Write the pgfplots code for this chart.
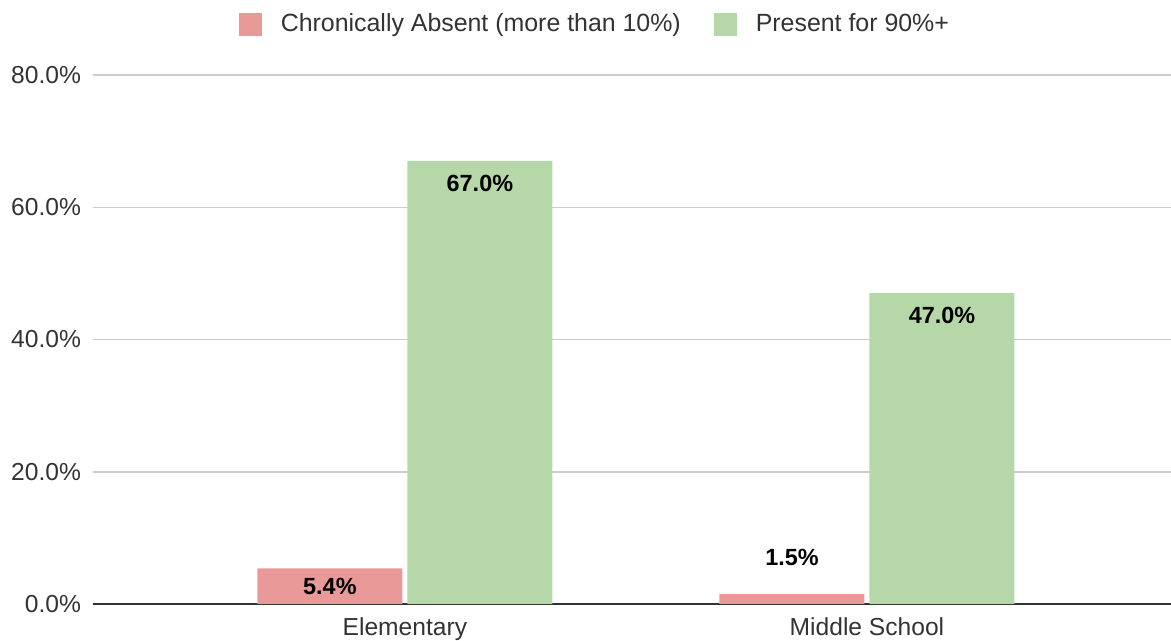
\documentclass[border=0pt]{standalone}
\usepackage{pgfplots}
\pgfplotsset{compat=1.18}
\usepackage{fontspec}
\setmainfont{Liberation Sans}
\definecolor{cred}{HTML}{EA9999}
\definecolor{cgreen}{HTML}{B6D7A8}
\definecolor{cgrid}{HTML}{CCCCCC}
\definecolor{ctext}{HTML}{333333}
\begin{document}
\begin{tikzpicture}
\path[use as bounding box] (0,0) rectangle (585.5pt,320.5pt);
\begin{axis}[
  at={(46.5pt,18.5pt)}, anchor=south west,
  width=539pt, height=264.5pt, scale only axis,
  xmin=-0.675, xmax=1.658, ymin=0, ymax=80,
  axis line style={draw=none},
  major tick length=0pt,
  xtick={0,1}, xticklabels={Elementary,Middle School},
  ytick={20,40,60,80},
  extra y ticks={0}, extra y tick labels={0.0\%},
  extra y tick style={grid style={draw=ctext,line width=1pt}},
  ymajorgrids, grid style={draw=cgrid,line width=0.75pt},
  yticklabel={\pgfmathprintnumber[fixed,fixed zerofill,precision=1,assume math mode=true]{\tick}\%},
  yticklabel style={font=\fontsize{12.3}{14}\selectfont, text=ctext, xshift=-2.5pt},
  xticklabel style={font=\fontsize{12.3}{14}\selectfont, text=ctext, yshift=-3.5pt},
  ybar, bar width=72.5pt,
  nodes near coords={\pgfmathprintnumber[fixed,fixed zerofill,precision=1,assume math mode=true]{\pgfplotspointmeta}\%},
  nodes near coords style={font=\fontsize{11.7}{14}\selectfont\bfseries, text=black},
  legend style={at={(axis description cs:0.4665,1.0964)}, anchor=center, draw=none,
    font=\fontsize{12.45}{15}\selectfont, text=ctext, legend columns=2,
    /tikz/every even column/.append style={column sep=14.5pt}},
  legend image code/.code={\fill[#1] (0pt,-5.75pt) rectangle (11.5pt,5.75pt); \path (19pt,0pt);},
]
\addplot[fill=cred, draw=none, bar shift=-37.5pt,
  visualization depends on={ifthenelse(y<3,18.5,-9) \as \myshift},
  every node near coord/.append style={anchor=center, yshift=\myshift pt}]
  coordinates {(0,5.4) (1,1.5)};
\addlegendentry{Chronically Absent (more than 10\%)}
\addplot[fill=cgreen, draw=none, bar shift=37.5pt,
  every node near coord/.append style={anchor=center, yshift=-11pt}]
  coordinates {(0,67.0) (1,47.0)};
\addlegendentry{Present for 90\%+}
\end{axis}
\end{tikzpicture}
\end{document}
